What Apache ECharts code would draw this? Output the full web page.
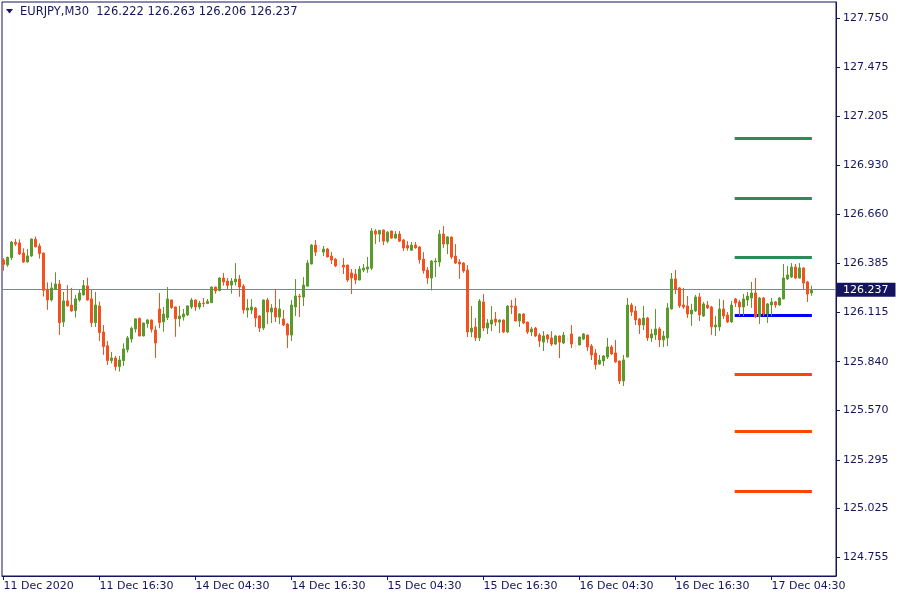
<!DOCTYPE html>
<html><head><meta charset="utf-8">
<script src="https://cdn.jsdelivr.net/npm/echarts@6/dist/echarts.min.js"></script>
<style>html,body{margin:0;padding:0;background:#fff}#c{width:900px;height:600px}</style>
</head><body><div id="c"></div>
<script>
const symbolName = 'EURJPY,M30';
const opens = [126.405,126.378,126.418,126.503,126.500,126.444,126.394,126.428,126.520,126.483,
126.444,126.242,126.183,126.244,126.272,126.061,126.178,126.155,126.124,126.183,
126.211,126.261,126.189,126.057,126.150,126.005,125.928,125.846,125.861,125.813,
125.846,125.907,125.966,126.022,126.081,125.983,126.052,126.072,126.016,126.133,
126.061,126.085,126.183,126.144,126.079,126.089,126.100,126.144,126.183,126.144,
126.166,126.164,126.168,126.255,126.236,126.305,126.288,126.266,126.283,126.299,
126.260,126.127,126.127,126.138,126.094,126.027,126.183,126.116,126.138,126.088,
126.077,126.049,125.988,126.144,126.205,126.199,126.260,126.383,126.488,126.472,
126.449,126.466,126.427,126.410,126.385,126.377,126.377,126.333,126.327,126.294,
126.349,126.355,126.360,126.566,126.549,126.572,126.510,126.566,126.527,126.549,
126.516,126.486,126.460,126.488,126.477,126.410,126.349,126.305,126.394,126.394,
126.549,126.494,126.533,126.427,126.394,126.388,126.349,126.005,126.033,125.973,
126.172,126.027,126.049,126.077,126.060,126.072,126.005,126.149,126.149,126.066,
126.105,126.060,126.005,126.027,125.988,125.949,125.988,125.972,125.938,125.983,
125.944,125.966,125.994,125.927,125.933,125.966,125.988,125.927,125.888,125.827,
125.844,125.866,125.922,125.889,125.844,125.733,125.866,126.155,126.122,126.077,
126.044,126.083,125.972,125.989,126.022,125.961,125.972,126.133,126.300,126.250,
126.155,126.150,126.105,126.122,126.200,126.094,126.155,126.144,126.033,126.033,
126.133,126.100,126.061,126.189,126.172,126.144,126.183,126.194,126.222,126.089,
126.194,126.105,126.155,126.172,126.155,126.189,126.300,126.311,126.366,126.305,
126.361,126.283,126.222];
const highs = [126.416,126.424,126.511,126.522,126.520,126.470,126.466,126.524,126.535,126.498,
126.446,126.281,126.281,126.337,126.294,126.228,126.266,126.250,126.211,126.242,
126.294,126.307,126.239,126.228,126.174,126.044,125.955,125.894,125.872,125.872,
125.942,125.983,126.035,126.080,126.085,126.057,126.076,126.074,126.039,126.222,
126.144,126.255,126.185,126.146,126.150,126.133,126.152,126.194,126.185,126.178,
126.194,126.188,126.257,126.257,126.310,126.333,126.305,126.305,126.388,126.322,
126.271,126.188,126.188,126.144,126.099,126.185,126.194,126.160,126.244,126.188,
126.127,126.055,126.183,126.299,126.216,126.310,126.405,126.494,126.516,126.490,
126.483,126.472,126.449,126.416,126.405,126.416,126.379,126.355,126.355,126.372,
126.383,126.422,126.583,126.577,126.572,126.574,126.566,126.568,126.566,126.566,
126.522,126.510,126.505,126.505,126.483,126.449,126.366,126.405,126.416,126.572,
126.594,126.538,126.535,126.494,126.410,126.394,126.377,126.149,126.083,126.188,
126.216,126.077,126.149,126.116,126.074,126.074,126.155,126.183,126.194,126.110,
126.110,126.062,126.033,126.033,125.999,126.010,125.994,126.010,125.988,125.985,
126.005,125.980,126.044,125.949,125.979,125.999,125.990,125.938,125.910,125.877,
125.877,125.972,125.933,125.961,125.846,125.877,126.194,126.166,126.150,126.083,
126.150,126.089,126.022,126.133,126.033,126.011,126.166,126.333,126.350,126.255,
126.250,126.205,126.161,126.211,126.222,126.172,126.177,126.150,126.094,126.189,
126.183,126.116,126.177,126.194,126.183,126.216,126.228,126.283,126.305,126.200,
126.200,126.166,126.194,126.177,126.200,126.383,126.372,126.388,126.383,126.388,
126.363,126.289,126.263];
const lows = [126.346,126.368,126.405,126.483,126.433,126.389,126.392,126.422,126.476,126.413,
126.202,126.128,126.174,126.239,125.989,126.033,126.146,126.118,126.085,126.174,
126.209,126.179,126.033,126.033,125.955,125.878,125.822,125.831,125.791,125.785,
125.816,125.891,125.946,126.002,125.981,125.981,126.029,126.002,125.861,126.026,
126.007,126.072,126.133,125.978,126.035,126.068,126.094,126.133,126.122,126.131,
126.144,126.160,126.166,126.218,126.231,126.262,126.240,126.218,126.264,126.201,
126.107,126.085,126.105,126.033,126.005,126.016,126.049,126.055,126.060,126.049,
126.038,125.916,125.955,126.094,126.088,126.149,126.258,126.381,126.427,126.449,
126.427,126.420,126.383,126.366,126.333,126.327,126.283,126.216,126.271,126.292,
126.338,126.334,126.349,126.494,126.505,126.488,126.499,126.522,126.522,126.505,
126.455,126.457,126.457,126.468,126.385,126.329,126.273,126.236,126.310,126.368,
126.473,126.438,126.410,126.383,126.301,126.334,125.977,125.977,125.955,125.955,
126.010,125.994,126.010,126.038,125.999,125.999,125.999,126.105,126.064,126.033,
126.049,125.994,125.983,125.977,125.922,125.899,125.944,125.927,125.933,125.860,
125.938,125.950,125.916,125.907,125.931,125.960,125.899,125.849,125.796,125.822,
125.816,125.855,125.877,125.833,125.716,125.705,125.864,126.094,126.044,125.994,
126.016,125.955,125.950,125.961,125.922,125.922,125.927,126.131,126.216,126.139,
126.133,126.083,126.039,126.116,126.066,126.089,126.133,125.989,125.983,126.011,
126.077,126.055,126.055,126.144,126.094,126.094,126.150,126.139,126.083,126.050,
126.094,126.055,126.094,126.139,126.150,126.187,126.294,126.305,126.300,126.303,
126.239,126.172,126.206];
const closes = [126.381,126.420,126.505,126.494,126.439,126.394,126.428,126.522,126.478,126.441,
126.237,126.183,126.250,126.272,126.057,126.178,126.150,126.122,126.189,126.222,
126.263,126.183,126.057,126.155,126.002,125.924,125.846,125.861,125.813,125.850,
125.911,125.972,126.026,126.078,125.983,126.055,126.072,126.020,125.944,126.057,
126.105,126.189,126.141,126.079,126.094,126.105,126.150,126.183,126.144,126.166,
126.163,126.175,126.255,126.233,126.305,126.283,126.264,126.288,126.299,126.255,
126.127,126.138,126.144,126.083,126.027,126.183,126.116,126.138,126.088,126.133,
126.044,125.988,126.155,126.205,126.201,126.266,126.388,126.488,126.449,126.470,
126.466,126.422,126.405,126.372,126.383,126.366,126.294,126.305,126.294,126.355,
126.360,126.366,126.566,126.549,126.570,126.510,126.560,126.527,126.549,126.510,
126.472,126.472,126.488,126.473,126.407,126.346,126.305,126.399,126.399,126.549,
126.494,126.533,126.422,126.388,126.383,126.344,126.005,126.027,125.973,126.177,
126.027,126.055,126.072,126.060,126.072,126.005,126.149,126.144,126.066,126.105,
126.055,126.005,126.022,125.983,125.955,125.983,125.966,125.938,125.983,125.949,
125.988,125.964,125.938,125.925,125.977,125.994,125.922,125.877,125.823,125.849,
125.872,125.922,125.883,125.839,125.733,125.850,126.155,126.116,126.072,126.044,
126.083,125.972,125.994,126.022,125.961,125.983,126.139,126.300,126.244,126.150,
126.144,126.105,126.127,126.200,126.100,126.161,126.139,126.033,126.044,126.133,
126.094,126.061,126.155,126.166,126.144,126.189,126.205,126.222,126.089,126.194,
126.105,126.161,126.172,126.155,126.194,126.305,126.322,126.366,126.305,126.361,
126.277,126.216,126.237];
const faintBars = [79, 84, 141, 143];

const xTickBars = [0, 24, 48, 72, 96, 120, 144, 168, 192];
const xTickLabels = ['11 Dec 2020','11 Dec 16:30','14 Dec 04:30','14 Dec 16:30','15 Dec 04:30','15 Dec 16:30','16 Dec 04:30','16 Dec 16:30','17 Dec 04:30'];
const yTickValues = [127.750,127.475,127.205,126.930,126.660,126.385,126.115,125.840,125.570,125.295,125.025,124.755];

const resistanceLevels = [127.083, 126.750, 126.422];
const pivotLevel = 126.100;
const supportLevels = [125.772, 125.455, 125.122];
const levelFromBar = 182.8, levelToBar = 202.1;

const NAVY = '#15155f';
const BULL = '#5a9a2b', BEAR = '#f4511f', FAINT = '#f8e4dc';

const last = opens.length - 1;
const lastClose = closes[last];
const header = symbolName + '  ' + [opens[last], highs[last], lows[last], closes[last]].map(v => v.toFixed(3)).join(' ');

const candleData = opens.map((o, i) => {
  const item = { value: [i, o, closes[i], lows[i], highs[i]] };
  if (faintBars.indexOf(i) >= 0) item.itemStyle = { color: FAINT, color0: FAINT, borderColor: FAINT, borderColor0: FAINT };
  return item;
});

function levelLine(v, color) {
  return [{ coord: [levelFromBar, v], lineStyle: { color: color, width: 3, type: 'solid' }, label: { show: false } },
          { coord: [levelToBar, v] }];
}

const markData = [
  { yAxis: lastClose, lineStyle: { color: '#778899', width: 1, type: 'solid' },
    label: { show: true, position: 'end', distance: 1, formatter: lastClose.toFixed(3), color: '#ffffff',
             backgroundColor: NAVY, padding: [1, 7, 1, 6], fontSize: 11, lineHeight: 12, fontFamily: 'DejaVu Sans' } }
];
resistanceLevels.forEach(v => markData.push(levelLine(v, '#2e8b57')));
markData.push(levelLine(pivotLevel, '#0000ff'));
supportLevels.forEach(v => markData.push(levelLine(v, '#ff4500')));

const chart = echarts.init(document.getElementById('c'), null, { renderer: 'canvas' });
chart.setOption({
  animation: false,
  backgroundColor: '#ffffff',
  title: { text: header, left: 20, top: 6, padding: 0, textStyle: { fontSize: 11.5, fontWeight: 'normal', color: NAVY, fontFamily: 'DejaVu Sans' } },
  graphic: [{ type: 'polygon', shape: { points: [[6, 9], [13, 9], [9.5, 13.5]] }, style: { fill: NAVY } }],
  grid: { left: 2, top: 2, width: 834, height: 574, show: true, borderColor: NAVY, borderWidth: 1, backgroundColor: '#ffffff' },
  xAxis: {
    type: 'value', min: -0.375, max: 208.125,
    axisLine: { show: true, onZero: false, lineStyle: { color: NAVY } },
    splitLine: { show: false },
    axisTick: { show: true, customValues: xTickBars, length: 4, lineStyle: { color: NAVY } },
    axisLabel: { customValues: xTickBars, formatter: v => xTickLabels[xTickBars.indexOf(Math.round(v))] || '',
                 align: 'left', margin: 5, color: NAVY, fontSize: 11, fontFamily: 'DejaVu Sans' }
  },
  yAxis: {
    type: 'value', position: 'right', min: 124.649, max: 127.839, scale: true,
    axisLine: { show: true, onZero: false, lineStyle: { color: NAVY } },
    splitLine: { show: false },
    axisTick: { show: true, customValues: yTickValues, length: 4, lineStyle: { color: NAVY } },
    axisLabel: { customValues: yTickValues, formatter: v => v.toFixed(3), margin: 7, color: NAVY, fontSize: 11, fontFamily: 'DejaVu Sans' }
  },
  series: [{
    type: 'candlestick',
    encode: { x: 0, y: [1, 2, 3, 4] },
    data: candleData,
    barWidth: 3,
    itemStyle: { color: BULL, color0: BEAR, borderColor: BULL, borderColor0: BEAR, borderWidth: 1 },
    markLine: { symbol: ['none', 'none'], silent: true, data: markData, z: 1 }
  }]
});
</script></body></html>
